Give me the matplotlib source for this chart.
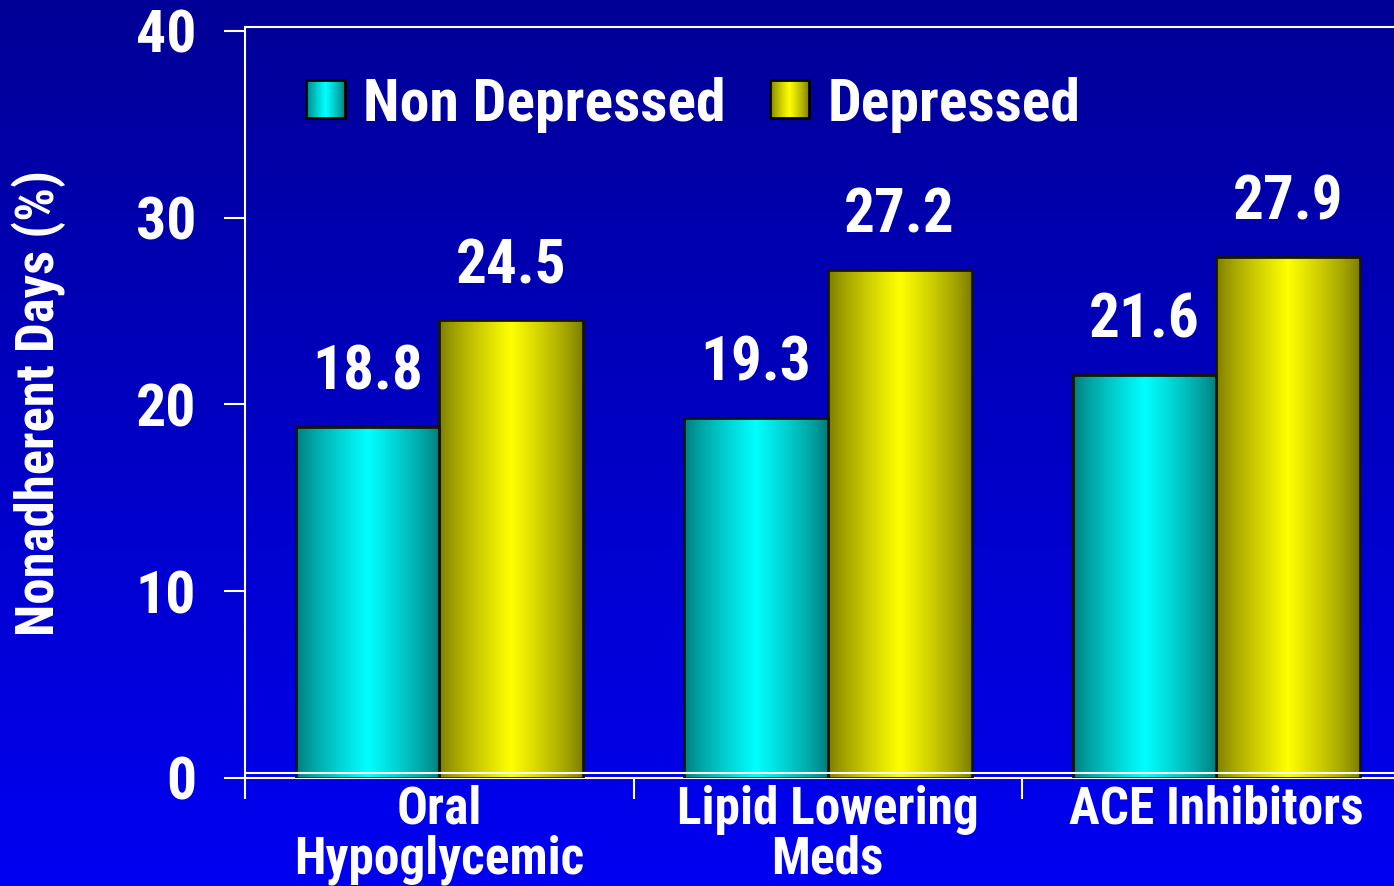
import numpy as np
import matplotlib
matplotlib.use('Agg')
import matplotlib.pyplot as plt

plt.rcParams['font.family'] = ['Roboto Condensed', 'Arial Narrow', 'Liberation Sans Narrow',
                               'Archivo Narrow', 'PT Sans Narrow', 'Open Sans Condensed',
                               'IBM Plex Sans Condensed', 'Liberation Sans']
plt.rcParams['font.weight'] = 'bold'

categories = ['Oral\nHypoglycemic', 'Lipid Lowering\nMeds', 'ACE Inhibitors']
series_names = ['Non Depressed', 'Depressed']
non_depressed = [18.8, 19.3, 21.6]
depressed = [24.5, 27.2, 27.9]
yticks = [0, 10, 20, 30, 40]

series_values = [non_depressed, depressed]
base_colors = [np.array([0.0, 1.0, 1.0]), np.array([1.0, 1.0, 0.0])]

W, H = 1394, 886
fig = plt.figure(figsize=(W / 100, H / 100), dpi=100)

# background: navy at top to bright blue at bottom
bg = fig.add_axes([0, 0, 1, 1], zorder=-10)
g = np.linspace(0, 1, 256)
bgimg = np.zeros((256, 1, 3))
bgimg[:, 0, 2] = (150 + 92 * g) / 255
bg.imshow(bgimg, aspect='auto', extent=[0, 1, 0, 1], origin='upper')
bg.axis('off')


def bar_gradient(color):
    t = np.linspace(0, 1, 200)
    b = 0.48 + 0.52 * (1 - np.abs(2 * t - 1)) ** 0.8
    return (np.outer(b, color)).reshape(1, -1, 3)


ax = fig.add_axes([245 / W, 1 - 778 / H, 1 - 245 / W, 751 / H])
ax.patch.set_alpha(0)

x = np.arange(len(categories))
width = 0.37
offsets = [-0.185, 0.185]

for vals, off, col in zip(series_values, offsets, base_colors):
    bars = ax.bar(x + off, vals, width, facecolor='none', edgecolor='#151505',
                  lw=2, zorder=3)
    for b, v in zip(bars, vals):
        im = ax.imshow(bar_gradient(col), aspect='auto', interpolation='bilinear',
                       extent=[b.get_x(), b.get_x() + b.get_width(), 0, v], zorder=2)
        im.set_clip_path(b)
        ax.text(b.get_x() + b.get_width() / 2, v + 2.0, f'{v:.1f}', ha='center',
                va='baseline', fontsize=44, color='white', fontweight='bold')

ax.set_xlim(-0.5, 2.4575)
ax.set_ylim(0, 40.214)

ax.axhline(0.27, color='white', lw=1.5, zorder=4)

ax.set_yticks(yticks)
ax.tick_params(axis='y', colors='white', length=15, width=1.5, pad=20, labelsize=43)

ax.set_xticks([-0.5, 0.5, 1.5])
ax.set_xticklabels([])
ax.set_xticks(x, minor=True)
ax.set_xticklabels(categories, minor=True)
ax.tick_params(axis='x', which='major', color='white', length=15, width=1.5)
ax.tick_params(axis='x', which='minor', length=0, pad=5, labelsize=37, labelcolor='white')
for t in ax.get_xticklabels(minor=True):
    t.set_linespacing(1.0)

for s in ['left', 'top', 'bottom']:
    ax.spines[s].set_color('white')
    ax.spines[s].set_linewidth(1.5)
ax.spines['right'].set_visible(False)

ax.set_ylabel('Nonadherent Days (%)', fontsize=38, color='white', fontweight='bold')
ax.yaxis.set_label_coords(-0.156, 0.499)

# legend
legend_boxes = [306, 770]
legend_text_x = [363, 828]
for name, col, bx, tx in zip(series_names, base_colors, legend_boxes, legend_text_x):
    lax = fig.add_axes([bx / W, 1 - 118 / H, 39 / W, 38 / H])
    lax.imshow(bar_gradient(col), aspect='auto', interpolation='bilinear')
    lax.set_xticks([])
    lax.set_yticks([])
    for s in lax.spines.values():
        s.set_color('black')
        s.set_linewidth(2)
    fig.text(tx / W, 1 - 121 / H, name, ha='left', va='baseline', fontsize=43,
             color='white', fontweight='bold')

fig.savefig('out.png', dpi=100)
